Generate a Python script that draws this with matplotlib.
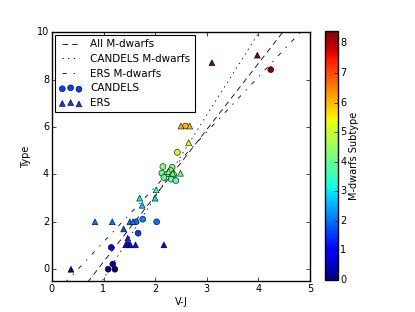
import numpy as np
import matplotlib
matplotlib.use('Agg')
import matplotlib.pyplot as plt

plt.style.use('classic')

# CANDELS M-dwarfs (circles)
candels_vj = [1.09, 1.22, 1.18, 1.15, 1.48, 1.67, 1.63, 1.76, 2.03, 2.15, 2.13,
              2.33, 2.30, 2.23, 2.36, 2.17, 2.31, 2.40, 2.43, 2.59, 4.24]
candels_type = [0.0, 0.0, 0.22, 0.92, 1.03, 1.52, 2.0, 2.11, 2.0, 4.33, 4.05,
                4.30, 4.16, 4.02, 3.98, 3.87, 3.80, 3.74, 4.93, 6.04, 8.42]

# ERS M-dwarfs (triangles)
ers_vj = [0.37, 0.835, 1.17, 1.51, 1.57, 1.39, 1.47, 1.43, 1.52, 1.62, 2.17,
          1.75, 1.70, 2.00, 2.02, 2.26, 2.34, 2.49, 2.65, 2.50, 2.67, 3.10, 3.98]
ers_type = [0.0, 2.0, 2.0, 2.0, 2.0, 1.7, 1.31, 1.03, 1.03, 1.03, 1.03,
            2.7, 3.0, 3.0, 3.35, 4.12, 4.05, 4.05, 5.34, 6.04, 6.04, 8.71, 9.03]

# linear fits: Type = slope * (V-J) + intercept
fit_all = (2.79, -2.48)
fit_candels = (3.45, -3.85)
fit_ers = (2.32, -1.17)

fig = plt.figure(figsize=(4.15, 3.12), dpi=100)
ax = fig.add_axes([0.125, 0.099, 0.622, 0.798])
cax = fig.add_axes([0.783, 0.1026, 0.0306, 0.798])

xx = np.linspace(0, 5, 50)
ax.plot(xx, fit_all[0] * xx + fit_all[1], 'k--', lw=0.6, dashes=(4, 3), label='All M-dwarfs')
ax.plot(xx, fit_candels[0] * xx + fit_candels[1], 'k:', lw=0.6, label='CANDELS M-dwarfs')
ax.plot(xx, fit_ers[0] * xx + fit_ers[1], 'k-.', lw=0.6, label='ERS M-dwarfs')

vmax = max(candels_type)
sc = ax.scatter(candels_vj, candels_type, c=candels_type, cmap='jet', vmin=0, vmax=vmax,
                marker='o', s=18, edgecolors='k', linewidths=0.4, label='CANDELS', zorder=3)
ax.scatter(ers_vj, ers_type, c=ers_type, cmap='jet', vmin=0, vmax=vmax,
           marker='^', s=18, edgecolors='k', linewidths=0.4, label='ERS', zorder=3)

ax.set_xlim(0, 5)
ax.set_ylim(-0.5, 10)
ax.set_yticks([0, 2, 4, 6, 8, 10])
ax.set_xlabel('V-J', fontsize=7, labelpad=2)
ax.set_ylabel('Type', fontsize=7, labelpad=4)
ax.tick_params(labelsize=7, length=3, pad=2)

leg = ax.legend(loc='upper left', fontsize=7.5, scatterpoints=3, handlelength=2.2,
                borderaxespad=0.3, labelspacing=0.45)
leg.get_frame().set_linewidth(0.8)
for h in leg.legend_handles[3:]:
    h.set_array(None)
    h.set_facecolor('#0a3cff')

cb = fig.colorbar(sc, cax=cax, ticks=range(0, 9))
cb.ax.tick_params(labelsize=7, length=3, pad=2)
cb.set_label('M-dwarfs Subtype', fontsize=7, labelpad=2)

fig.savefig('out.png', dpi=100)
